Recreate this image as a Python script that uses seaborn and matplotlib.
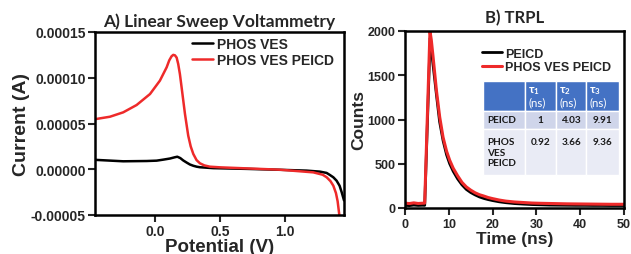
import matplotlib
matplotlib.use("Agg")
import matplotlib.pyplot as plt
import seaborn as sns
import pandas as pd

# ---------------- data ----------------
# A) Linear sweep voltammetry
lsv_v_phos = [-0.461, -0.449, -0.244, -0.064, 0.013, 0.064, 0.115, 0.150, 0.172, 0.195, 0.218, 0.245, 0.269, 0.295,
              0.321, 0.346, 0.449, 0.705, 0.962, 1.167, 1.269, 1.320, 1.346, 1.372, 1.397, 1.420, 1.436, 1.454]
lsv_i_phos = [1.04e-5, 1.02e-5, 8.7e-6, 9.0e-6, 9.4e-6, 1.05e-5, 1.17e-5, 1.30e-5, 1.37e-5, 1.22e-5, 9.6e-6, 7.2e-6,
              5.2e-6, 3.8e-6, 2.8e-6, 2.2e-6, 1.2e-6, 0.4e-6, -0.6e-6, -1.5e-6, -2.6e-6, -4.0e-6, -6.3e-6, -8.8e-6,
              -1.25e-5, -1.8e-5, -2.5e-5, -3.4e-5]

lsv_v_peicd = [-0.461, -0.449, -0.346, -0.244, -0.141, -0.038, 0.038, 0.09, 0.110, 0.128, 0.141, 0.154, 0.167,
               0.179, 0.192, 0.205, 0.218, 0.231, 0.244, 0.256, 0.275, 0.295, 0.320, 0.346, 0.380, 0.423, 0.5,
               0.962, 1.218, 1.290, 1.321, 1.350, 1.372, 1.392, 1.405, 1.418]
lsv_i_peicd = [5.49e-5, 5.5e-5, 5.74e-5, 6.22e-5, 7.02e-5, 8.22e-5, 9.68e-5, 1.114e-4, 1.19e-4, 1.235e-4, 1.25e-4,
               1.245e-4, 1.22e-4, 1.15e-4, 1.04e-4, 8.96e-5, 7.5e-5, 6.04e-5, 4.8e-5, 3.67e-5, 2.5e-5, 1.67e-5,
               1.0e-5, 6.5e-6, 4.2e-6, 2.8e-6, 2.1e-6, -0.5e-6, -3.4e-6, -6.0e-6, -8.8e-6, -1.3e-5, -1.8e-5,
               -2.6e-5, -3.5e-5, -5.0e-5]

lsv_yticks = [-0.00005, 0.0, 0.00005, 0.00010, 0.00015]
lsv_ytick_labels = ["-0.00005", "0.00000", "0.00005", "0.00010", "0.00015"]
lsv_xticks = [0.0, 0.5, 1.0]
lsv_xtick_labels = ["0.0", "0.5", "1.0"]

# B) TRPL
t_peicd = [0, 1, 2, 3, 4, 4.5, 5.75, 6.0, 6.4, 7.2, 7.9, 8.7, 9.5, 10.2, 11, 12, 13, 14, 15, 16, 17, 18,
           19, 20, 21.5, 23, 25, 27, 29, 31, 33, 35, 37, 39, 41, 43, 45, 47, 50]
c_peicd = [30, 27, 33, 29, 31, 30, 1920, 1800, 1620, 1270, 975, 760, 600, 500, 415, 330, 262, 210, 175, 148, 125, 108,
           95, 84, 70, 60, 50, 44, 39, 36, 33, 32, 31, 30, 30, 29, 29, 28, 28]

t_phos = [0, 1, 2, 3, 4, 4.5, 5.7, 6.0, 6.42, 7.18, 7.93, 8.69, 9.5, 10.2, 11, 12, 13, 14, 15, 16, 17, 18,
          19, 20, 21.5, 23, 25, 27, 29, 31, 33, 35, 37, 39, 41, 43, 45, 47, 50]
c_phos = [55, 50, 58, 51, 54, 55, 2000, 1900, 1703, 1325, 1025, 799, 640, 540, 450, 365, 290, 238, 202, 172, 150, 135,
          118, 106, 90, 78, 68, 62, 56, 53, 51, 49, 47, 46, 45, 44, 43, 42, 42]

trpl_xticks = [0, 10, 20, 30, 40, 50]
trpl_yticks = [0, 500, 1000, 1500, 2000]

table_cols = ["", r"$\tau_1$" + "\n(ns)", r"$\tau_2$" + "\n(ns)", r"$\tau_3$" + "\n(ns)"]
table_rows = ["PEICD", "PHOS\nVES\nPEICD"]
tau1 = ["1", "0.92"]
tau2 = ["4.03", "3.66"]
tau3 = ["9.91", "9.36"]

# ---------------- style ----------------
sns.set_style("ticks")
plt.rcParams["font.family"] = ["Liberation Sans", "DejaVu Sans"]
plt.rcParams["font.weight"] = "bold"
plt.rcParams["axes.unicode_minus"] = False
plt.rcParams["mathtext.fontset"] = "custom"
plt.rcParams["mathtext.rm"] = "Lato"
plt.rcParams["mathtext.it"] = "Lato"

BLACK = "#000000"
RED = "#ee2a2a"

fig = plt.figure(figsize=(6.31, 2.55), dpi=100)
ax1 = fig.add_axes([95 / 631, 39 / 255, 249 / 631, 183 / 255])
ax2 = fig.add_axes([405 / 631, 46 / 255, 219 / 631, 177 / 255])

df1 = pd.DataFrame({"V": lsv_v_phos, "I": lsv_i_phos})
df2 = pd.DataFrame({"V": lsv_v_peicd, "I": lsv_i_peicd})
sns.lineplot(data=df1, x="V", y="I", ax=ax1, color=BLACK, lw=1.8, sort=False, estimator=None, label="PHOS VES")
sns.lineplot(data=df2, x="V", y="I", ax=ax1, color=RED, lw=1.8, sort=False, estimator=None, label="PHOS VES PEICD")

ax1.set_xlim(-0.461, 1.454)
ax1.set_ylim(-0.00005, 0.00015)
ax1.set_xticks(lsv_xticks)
ax1.set_xticklabels(lsv_xtick_labels)
ax1.set_yticks(lsv_yticks)
ax1.set_yticklabels(lsv_ytick_labels)
ax1.set_xlabel("Potential (V)", fontsize=13.5, fontweight="bold", labelpad=0)
ax1.set_ylabel("Current (A)", fontsize=14, fontweight="bold", labelpad=1)
ax1.set_title("A) Linear Sweep Voltammetry", fontsize=12.5, fontweight="bold",
              family=["Lato", "DejaVu Sans"], pad=4)
ax1.tick_params(labelsize=10, width=1.5, length=5, pad=1.5)
for lab in ax1.get_xticklabels() + ax1.get_yticklabels():
    lab.set_fontweight("bold")
ax1.legend(loc="upper left", bbox_to_anchor=(0.39, 0.975), frameon=False,
           prop={"size": 10, "weight": "bold"}, handlelength=1.5, handletextpad=0.3,
           labelspacing=0.2, borderpad=0, borderaxespad=0)

d3 = pd.DataFrame({"t": t_peicd, "c": c_peicd})
d4 = pd.DataFrame({"t": t_phos, "c": c_phos})
sns.lineplot(data=d3, x="t", y="c", ax=ax2, color=BLACK, lw=2.0, sort=False, estimator=None, label="PEICD")
sns.lineplot(data=d4, x="t", y="c", ax=ax2, color=RED, lw=2.2, sort=False, estimator=None, label="PHOS VES PEICD")
ax2.set_xlim(0, 50)
ax2.set_ylim(0, 2000)
ax2.set_xticks(trpl_xticks)
ax2.set_yticks(trpl_yticks)
ax2.set_xlabel("Time (ns)", fontsize=12.5, fontweight="bold", labelpad=1)
ax2.set_ylabel("Counts", fontsize=12.5, fontweight="bold", labelpad=1)
ax2.set_title("B) TRPL", fontsize=12, fontweight="bold", family=["Lato", "DejaVu Sans"], pad=6)
ax2.tick_params(labelsize=9, width=1.5, length=5, pad=2)
for lab in ax2.get_xticklabels() + ax2.get_yticklabels():
    lab.set_fontweight("bold")
ax2.legend(loc="upper left", bbox_to_anchor=(0.35, 0.905), frameon=False,
           prop={"size": 9, "weight": "bold"}, handlelength=1.6, handletextpad=0.3,
           labelspacing=0.1, borderpad=0, borderaxespad=0)

for ax in (ax1, ax2):
    for s in ax.spines.values():
        s.set_linewidth(1.8)
        s.set_color("black")

# table
cell_text = [[table_rows[0], tau1[0], tau2[0], tau3[0]],
             [table_rows[1], tau1[1] + "\n\n", tau2[1] + "\n\n", tau3[1] + "\n\n"]]
col_w = [42, 31, 30, 33]
tot = sum(col_w)
tbl = ax2.table(cellText=cell_text, colLabels=table_cols,
                colWidths=[w / tot for w in col_w],
                bbox=[0.357, 0.186, 0.621, 0.532], cellLoc="center")
tbl.auto_set_font_size(False)
row_h = [30, 18, 46]
for (r, c), cell in tbl.get_celld().items():
    cell.set_height(row_h[r] / 94)
    cell.set_edgecolor("white")
    cell.set_linewidth(1.0)
    txt = cell.get_text()
    txt.set_fontfamily(["Lato", "DejaVu Sans"])
    if r == 0:
        cell.set_facecolor("#4472C4")
        txt.set_color("white")
        txt.set_fontweight("normal")
        txt.set_fontsize(8.3)
        txt.set_linespacing(1.0)
        cell._loc = "left"
        txt.set_horizontalalignment("left")
        txt.set_multialignment("left")
    else:
        cell.set_facecolor("#CFD5EA" if r == 1 else "#E9EBF5")
        txt.set_color("#1a1a1a")
        txt.set_fontweight("bold")
        txt.set_fontsize(7.2)
        if c == 0:
            cell._loc = "left"
            txt.set_horizontalalignment("left")

fig.savefig("out.png", dpi=100)
